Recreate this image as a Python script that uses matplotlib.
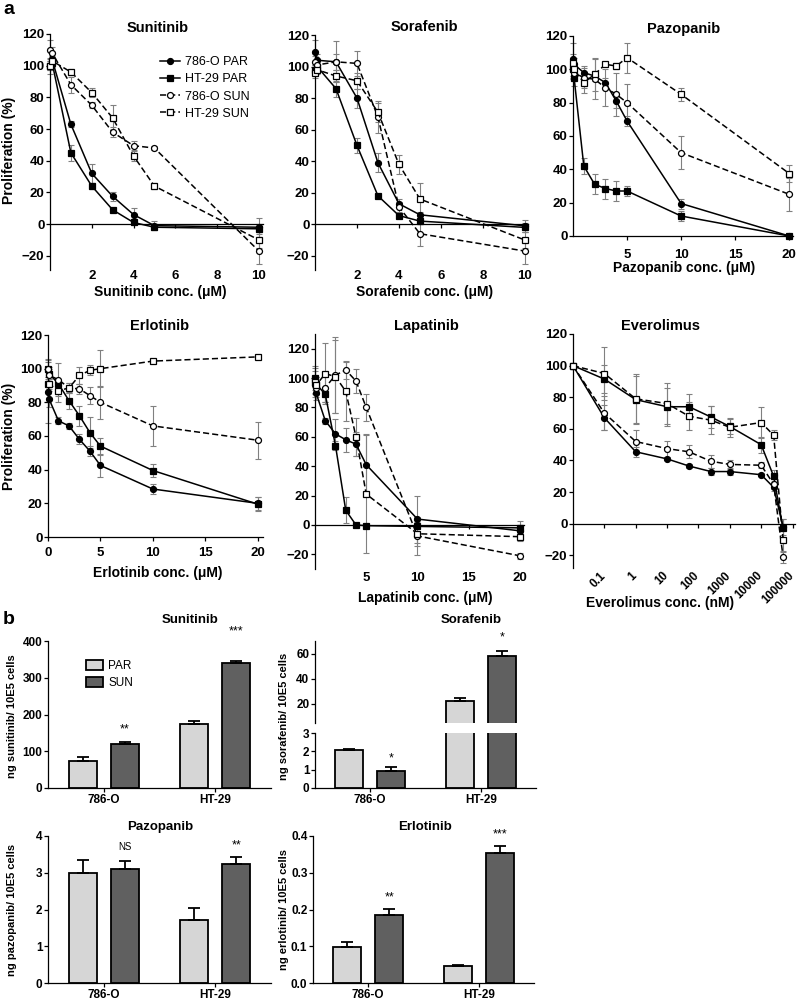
import numpy as np
import matplotlib
matplotlib.use("Agg")
import matplotlib.pyplot as plt
import matplotlib.transforms as mtransforms
from matplotlib.lines import Line2D
from matplotlib.patches import Patch

plt.rcParams['font.family'] = ['Liberation Sans', 'DejaVu Sans']
plt.rcParams['font.weight'] = 'bold'
plt.rcParams['axes.linewidth'] = 0.9

SERIES = ['786-O PAR', 'HT-29 PAR', '786-O SUN', 'HT-29 SUN']

# ---- panel a : proliferation (%) ----
# series order: 786-O PAR, HT-29 PAR, 786-O SUN, HT-29 SUN
suni_x = [0, 0.1, 1, 2, 3, 4, 5, 10]
suni_y = [[100, 104, 63, 32, 17.5, 6, -1, -2],
          [100, 102, 45, 24, 9, 1, -2, -3],
          [110, 108, 88, 75, 58, 49.5, 48, -17],
          [100, 103, 96, 83, 67, 43, 24, -10]]
suni_err = [[5, 4, 2, 6, 3, 4, 3, 6],
            [3, 3, 5, 2, 1, 1, 2, 3],
            [6, 4, 5, 2, 3, 3, 1, 8],
            [3, 3, 2, 3, 8, 3, 2, 5]]

sora_x = [0, 0.1, 1, 2, 3, 4, 5, 10]
sora_y = [[109, 104, 103, 80, 39, 13, 6, -1],
          [98, 100, 86, 50, 18, 5.5, 2, -2],
          [103, 101, 103, 102, 68, 11, -6, -17],
          [96, 98, 94, 91, 71, 38, 16, -10]]
sora_err = [[8, 4, 13, 6, 6, 3, 2, 4],
            [3, 3, 5, 5, 1, 1, 1, 3],
            [4, 3, 5, 8, 10, 3, 8, 8],
            [3, 3, 4, 5, 6, 6, 10, 5]]

pazo_x = [0, 0.1, 1, 2, 3, 4, 5, 10, 20]
pazo_y = [[106, 103, 98, 96, 92, 81, 69, 19.5, 0],
          [100, 95, 42, 31, 28.5, 27, 27, 12, 0],
          [100, 98, 95, 94, 89, 85, 80, 50, 25],
          [104, 100, 92, 97, 103, 102, 107, 85, 37.5]]
pazo_err = [[10, 4, 4, 3, 3, 4, 3, 3, 0.5],
            [6, 5, 5, 6, 6, 6, 3, 3, 0.5],
            [5, 4, 6, 12, 11, 13, 11, 10, 10],
            [5, 4, 6, 10, 1, 2, 9, 4, 5]]

erlo_x = [0, 0.1, 1, 2, 3, 4, 5, 10, 20]
erlo_y = [[86, 82, 69, 66, 58, 51, 42.5, 28.5, 20],
          [100, 97, 91, 81, 72, 62, 54, 39.5, 19.5],
          [100, 96, 93.5, 88.5, 88, 84, 80, 66, 57.5],
          [91, 91, 87, 88.5, 96, 99, 100, 104.5, 107]]
erlo_err = [[18, 5, 2, 2, 3, 3, 7, 3, 4],
            [5, 3, 3, 5, 6, 9, 5, 4, 4],
            [6, 5, 10, 3, 3, 5, 10, 12, 11],
            [4, 3, 7, 3, 5, 3, 11, 1, 1]]

lapa_x = [0, 0.1, 1, 2, 3, 4, 5, 10, 20]
lapa_y = [[97, 90, 71, 62, 58, 55, 41, 4, -4],
          [100, 96, 89, 54, 10, 0, -0.5, -1, -2],
          [95, 93, 93.5, 102, 105.5, 98, 80, -7.5, -21],
          [97, 95, 103, 101, 91, 60, 21, -6, -8]]
lapa_err = [[8, 5, 2, 10, 8, 8, 21, 16, 3],
            [8, 5, 5, 3, 9, 1, 1, 1, 5],
            [5, 6, 10, 26, 6, 8, 9, 13, 2],
            [10, 6, 21, 25, 20, 13, 40, 8, 3]]

evero_conc = [0, 0.1, 1, 10, 50, 250, 1000, 10000, 25000, 50000]
evero_y = [[100, 67, 45.5, 41, 36.5, 33, 33, 31, 23, -2],
           [100, 91.5, 78.5, 74, 74, 67.5, 61.5, 50, 30, -3],
           [100, 70, 52, 47.5, 45.5, 39.5, 37.5, 37, 25, -21],
           [100, 95, 79, 76, 68, 65.5, 61, 64, 56, -10]]
evero_err = [[0, 8, 3, 1, 1, 2, 2, 1, 2, 5],
             [0, 9, 15, 12, 8, 7, 5, 5, 4, 6],
             [0, 11, 7, 5, 4, 4, 3, 2, 3, 4],
             [0, 17, 16, 13, 9, 9, 6, 10, 3, 8]]
evero_ticks = [0.1, 1, 10, 100, 1000, 10000, 100000]
evero_ticklabels = ['0.1', '1', '10', '100', '1000', '10000', '100000']

# ---- panel b : intracellular drug (ng / 10E5 cells) ----
cell_lines = ['786-O', 'HT-29']
suni_par, suni_par_e = [74, 175], [10, 7]
suni_sun, suni_sun_e = [121, 341], [5, 5]
suni_sig = ['**', '***']
sora_par, sora_par_e = [2.05, 22.5], [0.08, 2.5]
sora_sun, sora_sun_e = [0.93, 58], [0.2, 4]
sora_sig = ['*', '*']
pazo_par, pazo_par_e = [3.0, 1.72], [0.35, 0.32]
pazo_sun, pazo_sun_e = [3.1, 3.23], [0.22, 0.2]
pazo_sig = ['NS', '**']
erlo_par, erlo_par_e = [0.098, 0.047], [0.014, 0.003]
erlo_sun, erlo_sun_e = [0.185, 0.355], [0.016, 0.019]
erlo_sig = ['**', '***']

W, H = 798, 999
fig = plt.figure(figsize=(W / 100, H / 100), dpi=100)


def add_ax(l, t, r, b):
    return fig.add_axes([l / W, 1 - b / H, (r - l) / W, (b - t) / H])


def ftext(x, y, s, **kw):
    fig.text(x / W, 1 - y / H, s, ha='center', va='center', **kw)


STYLES = [dict(marker='o', mfc='k', ls='-'),
          dict(marker='s', mfc='k', ls='-'),
          dict(marker='o', mfc='white', ls=(0, (4, 2))),
          dict(marker='s', mfc='white', ls=(0, (4, 2)))]


def draw_curves(ax, x, ys, errs):
    for y, e, st in zip(ys, errs, STYLES):
        ax.errorbar(x, y, yerr=e, fmt='none', ecolor='0.5', elinewidth=0.8,
                    capsize=2.5, capthick=0.8, clip_on=False, zorder=2)
        ax.plot(x, y, color='k', lw=1.1, ms=4.3, mec='k', mew=0.9,
                clip_on=False, zorder=3, **st)


def style_curve_ax(ax, xlim, ylim, yticks, xticks, xlabels, pad, zero_spine=True):
    ax.set_xlim(*xlim)
    ax.set_ylim(*ylim)
    ax.spines['top'].set_visible(False)
    ax.spines['right'].set_visible(False)
    if zero_spine:
        ax.spines['bottom'].set_position(('data', 0))
    ax.set_yticks(yticks)
    ax.set_xticks(xticks)
    ax.set_xticklabels(xlabels)
    ax.tick_params(direction='out', length=3, width=0.9, labelsize=9.5, pad=1)
    ax.tick_params(axis='x', pad=pad)
    ax.patch.set_visible(False)


# ---------------- panel a ----------------
ax = add_ax(50, 34, 263, 270)
draw_curves(ax, suni_x, suni_y, suni_err)
style_curve_ax(ax, (0, 10.2), (-29, 120), range(-20, 121, 20),
               [2, 4, 6, 8, 10], ['2', '4', '6', '8', '10'], 30)
handles = [Line2D([], [], color='k', lw=1.1, ms=4.3, mec='k', mew=0.9, **st) for st in STYLES]
ax.legend(handles, SERIES, loc='upper left', bbox_to_anchor=(160 / W, 1 - 56 / H),
          bbox_transform=fig.transFigure, frameon=False, handlelength=1.6,
          handletextpad=0.4, labelspacing=0.42, borderaxespad=0, borderpad=0,
          prop={'size': 9, 'weight': 'normal'})

ax = add_ax(315, 35, 528, 270)
draw_curves(ax, sora_x, sora_y, sora_err)
style_curve_ax(ax, (0, 10.15), (-29, 120), range(-20, 121, 20),
               [2, 4, 6, 8, 10], ['2', '4', '6', '8', '10'], 30)

ax = add_ax(573, 36, 793, 236)
draw_curves(ax, pazo_x, pazo_y, pazo_err)
style_curve_ax(ax, (0, 20.35), (0, 120), range(0, 121, 20),
               [5, 10, 15, 20], ['5', '10', '15', '20'], 6, zero_spine=False)

ax = add_ax(48, 335, 263, 537)
draw_curves(ax, erlo_x, erlo_y, erlo_err)
style_curve_ax(ax, (0, 20.5), (0, 120), range(0, 121, 20),
               [0, 5, 10, 15, 20], ['0', '5', '10', '15', '20'], 4, zero_spine=False)

ax = add_ax(315, 334, 524, 569)
draw_curves(ax, lapa_x, lapa_y, lapa_err)
style_curve_ax(ax, (0, 20.4), (-30, 130), range(-20, 121, 20),
               [5, 10, 15, 20], ['5', '10', '15', '20'], 31)

ax = add_ax(573, 334, 795, 568)
evero_x = [0.01 if c == 0 else c for c in evero_conc]
draw_curves(ax, evero_x, evero_y, evero_err)
ax.set_xscale('log')
style_curve_ax(ax, (0.01, 1.2e5), (-28, 120), range(-20, 121, 20),
               evero_ticks, evero_ticklabels, 30)
ax.xaxis.set_minor_locator(matplotlib.ticker.NullLocator())
shift = mtransforms.ScaledTranslation(-5 / 100, 0, fig.dpi_scale_trans)
for lab in ax.get_xticklabels():
    lab.set_rotation(45)
    lab.set_ha('right')
    lab.set_va('top')
    lab.set_rotation_mode('anchor')
    lab.set_fontsize(8.5)
    lab.set_transform(lab.get_transform() + shift)

for name, x, y in [('Sunitinib', 158, 28), ('Sorafenib', 424, 27), ('Pazopanib', 684, 29),
                   ('Erlotinib', 160, 326), ('Lapatinib', 426, 326), ('Everolimus', 660, 326)]:
    ftext(x, y, name, fontsize=10.5)
for name, x, y in [('Sunitinib conc. (μM)', 160, 292), ('Sorafenib conc. (μM)', 425, 292),
                   ('Pazopanib conc. (μM)', 684, 268), ('Erlotinib conc. (μM)', 158, 573),
                   ('Lapatinib conc. (μM)', 425, 598), ('Everolimus conc. (nM)', 660, 603)]:
    ftext(x, y, name, fontsize=10)
ftext(9, 150, 'Proliferation (%)', fontsize=10, rotation=90)
ftext(9, 436, 'Proliferation (%)', fontsize=10, rotation=90)
ftext(9, 10, 'a', fontsize=14)
ftext(9, 619, 'b', fontsize=14)

# ---------------- panel b ----------------
PAR_C, SUN_C = '#d6d6d6', '#606060'


def draw_bars(ax, par, par_e, sun, sun_e):
    g = np.arange(len(cell_lines))
    for off, v, e, c in ((-0.19, par, par_e, PAR_C), (0.19, sun, sun_e, SUN_C)):
        ax.errorbar(g + off, v, yerr=[np.zeros(len(v)), e], fmt='none', ecolor='k',
                    elinewidth=1.3, capsize=4, capthick=1.3, zorder=3)
        ax.bar(g + off, v, width=0.25, color=c, edgecolor='k', linewidth=1.3, zorder=2)


def style_bar_ax(ax, ylim, yticks, yticklabels, xaxis=True):
    ax.set_xlim(-0.5, 1.5)
    ax.set_ylim(*ylim)
    ax.spines['top'].set_visible(False)
    ax.spines['right'].set_visible(False)
    ax.set_yticks(yticks)
    ax.set_yticklabels(yticklabels)
    ax.tick_params(direction='out', length=3, width=0.9, labelsize=8.5, pad=1)
    if xaxis:
        ax.set_xticks(range(len(cell_lines)))
        ax.set_xticklabels(cell_lines, fontsize=8.5)
        ax.tick_params(axis='x', pad=1)
    else:
        ax.spines['bottom'].set_visible(False)
        ax.set_xticks([])
    ax.patch.set_visible(False)


def stars(ax, x, y, s):
    fs = 7 if s == 'NS' else 9
    ax.text(x, y, s, ha='center', va='center', fontsize=fs, fontweight='normal',
            clip_on=False)


ax = add_ax(48, 641, 271, 788)
draw_bars(ax, suni_par, suni_par_e, suni_sun, suni_sun_e)
style_bar_ax(ax, (0, 400), range(0, 401, 100), ['0', '100', '200', '300', '400'])
stars(ax, 0.19, 160, suni_sig[0])
stars(ax, 1.19, 425, suni_sig[1])
ax.legend([Patch(fc=PAR_C, ec='k', lw=1.3), Patch(fc=SUN_C, ec='k', lw=1.3)], ['PAR', 'SUN'],
          loc='upper left', bbox_to_anchor=(86 / W, 1 - 660 / H), bbox_transform=fig.transFigure,
          frameon=False, handlelength=1.4, handleheight=0.9, handletextpad=0.5,
          labelspacing=0.45, borderaxespad=0, borderpad=0, prop={'size': 8.5, 'weight': 'normal'})

ax_up = add_ax(315, 641, 536, 723)
draw_bars(ax_up, sora_par, sora_par_e, sora_sun, sora_sun_e)
style_bar_ax(ax_up, (4.8, 70), [20, 40, 60], ['20', '40', '60'], xaxis=False)
stars(ax_up, 1.19, 73, sora_sig[1])
ax_lo = add_ax(315, 733, 536, 788)
draw_bars(ax_lo, sora_par, sora_par_e, sora_sun, sora_sun_e)
style_bar_ax(ax_lo, (0, 3.0), [0, 1, 2, 3], ['0', '1', '2', '3'])
stars(ax_lo, 0.19, 1.6, sora_sig[0])

ax = add_ax(48, 836, 271, 983)
draw_bars(ax, pazo_par, pazo_par_e, pazo_sun, pazo_sun_e)
style_bar_ax(ax, (0, 4), range(5), ['0', '1', '2', '3', '4'])
stars(ax, 0.19, 3.7, pazo_sig[0])
stars(ax, 1.19, 3.75, pazo_sig[1])

ax = add_ax(313, 836, 534, 983)
draw_bars(ax, erlo_par, erlo_par_e, erlo_sun, erlo_sun_e)
style_bar_ax(ax, (0, 0.4), [0, 0.1, 0.2, 0.3, 0.4], ['0.0', '0.1', '0.2', '0.3', '0.4'])
stars(ax, 0.19, 0.232, erlo_sig[0])
stars(ax, 1.19, 0.405, erlo_sig[1])

for name, x, y in [('Sunitinib', 190, 620), ('Sorafenib', 471, 620),
                   ('Pazopanib', 160, 827), ('Erlotinib', 425, 827)]:
    ftext(x, y, name, fontsize=9.5)
for name, x, y in [('ng sunitinib/ 10E5 cells', 12, 716), ('ng sorafenib/ 10E5 cells', 284, 716),
                   ('ng pazopanib/ 10E5 cells', 12, 910), ('ng erlotinib/ 10E5 cells', 284, 910)]:
    ftext(x, y, name, fontsize=8, rotation=90)

fig.savefig('out.png', dpi=100)
